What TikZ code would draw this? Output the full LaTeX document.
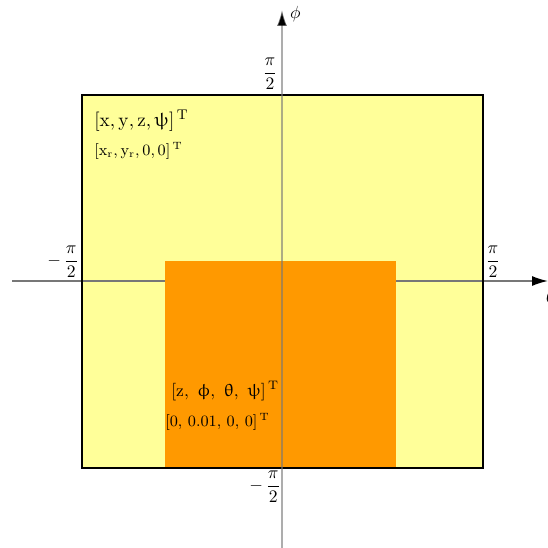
\documentclass[tikz,border=0pt]{standalone}
\usepackage{amsmath}
\usepackage{upgreek}
\usepackage{xcolor}
\usepackage{tikz}
\usetikzlibrary{arrows.meta}
\definecolor{regyellow}{HTML}{FFFF99}
\definecolor{regorange}{HTML}{FF9900}
\definecolor{axgray}{HTML}{777777}
\tikzset{
  axis/.style={draw=axgray,line width=0.9pt,-{Latex[color=black,length=3.2mm,width=2mm]}},
  vaxis/.style={axis,draw opacity=0.6},
  tick/.style={inner sep=1pt},
  vec/.style={anchor=west,inner sep=0pt},
}
\begin{document}
\begin{tikzpicture}[x=0.02cm,y=-0.02cm]
  \useasboundingbox (0,0) rectangle (548,548);
  % outer region
  \fill[regyellow] (82,95) rectangle (483,468);
  \draw[axis] (12,281) -- (548,281);
  % inner region
  \fill[regorange] (165,261) rectangle (396,468);
  \draw[black,line width=0.8pt] (82,95) rectangle (483,468);
  \draw[vaxis] (282,548) -- (282,10);
  \node[right] (phil) at (284,14) {$\phi$};
  \node[right] (thel) at (540,296) {$\theta$};
  % ticks
  \node[tick] (top) at (270,74) {$\dfrac{\pi}{2}$};
  \node[tick] (bot) at (265,487) {$-\,\dfrac{\pi}{2}$};
  \node[tick] (lft) at (63,262) {$-\,\dfrac{\pi}{2}$};
  \node[tick] (rgt) at (493,262) {$\dfrac{\pi}{2}$};
  % state vectors
  \node[vec,font=\fontsize{11}{13}\selectfont] (sa) at (94,121) {$[\mathrm{x},\mathrm{y},\mathrm{z},\uppsi]^{\,\mathrm{T}}$};
  \node[vec,font=\small] (sb) at (94,151) {$[\mathrm{x}_{\mathrm{r}},\mathrm{y}_{\mathrm{r}},0,0]^{\,\mathrm{T}}$};
  \node[vec] (sc) at (171,391) {$[\mathrm{z},\ \upphi,\ \uptheta,\ \uppsi]^{\,\mathrm{T}}$};
  \node[vec,font=\small] (sd) at (165,422) {$[0,\,0.01,\,0,\,0]^{\,\mathrm{T}}$};
\end{tikzpicture}
\end{document}
